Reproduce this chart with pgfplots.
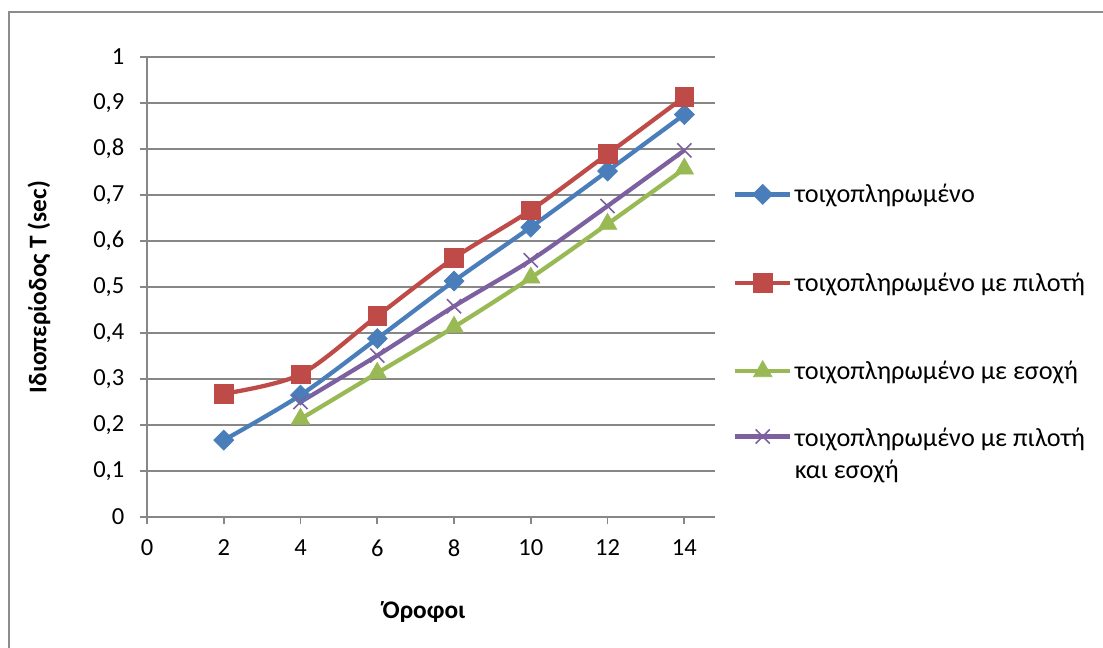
\documentclass[border=0pt]{standalone}
\usepackage{fontspec}
\setmainfont{Carlito}
\usepackage{pgfplots}
\pgfplotsset{compat=1.18}
\definecolor{sBlue}{HTML}{4A7EBB}
\definecolor{sRed}{HTML}{BE4B48}
\definecolor{sGreen}{HTML}{98B954}
\definecolor{sPurple}{HTML}{7D60A0}
\definecolor{gridc}{HTML}{878787}
\definecolor{borderc}{HTML}{8C8C8C}
\begin{document}
\begin{tikzpicture}
\useasboundingbox (-110.25pt,-98.25pt) rectangle (717pt,387.75pt);
\draw[borderc, line width=0.9pt] (-103.5pt,-100pt) -- (-103.5pt,378.75pt) -- (720pt,378.75pt);
\begin{axis}[
  at={(0pt,0pt)}, anchor=south west, scale only axis,
  width=426pt, height=345pt,
  xmin=0, xmax=14.8, ymin=0, ymax=1,
  xtick={0,2,4,6,8,10,12,14},
  ytick={0,0.1,0.2,0.3,0.4,0.5,0.6,0.7,0.8,0.9,1},
  axis lines=left, axis line style={-, gridc, line width=1.3pt},
  tick align=outside, major tick length=5.5pt,
  tick style={gridc, line width=1.3pt},
  ymajorgrids, grid style={gridc, line width=1.3pt},
  /pgf/number format/assume math mode=true,
  /pgf/number format/use comma,
  /pgf/number format/fixed,
  yticklabel style={/pgf/number format/precision=1, xshift=-8pt},
  xticklabel style={yshift=-8pt},
  tick label style={font=\fontsize{18.4}{22}\selectfont, black},
  ylabel={Ιδιοπερίοδος T (sec)},
  xlabel={Όροφοι},
  every axis y label/.style={at={(axis description cs:-0.19,0.5)}, rotate=90, anchor=center, font=\fontsize{19}{23}\selectfont\bfseries},
  every axis x label/.style={at={(axis description cs:0.4877,-0.2065)}, anchor=center, font=\fontsize{19}{23}\selectfont\bfseries},
  legend style={draw=none, fill=none, at={(axis description cs:1.0317,0.73)}, anchor=north west,
    font=\fontsize{19.7}{24}\selectfont, row sep=47pt, inner sep=0pt,
    cells={anchor=west, align=left}},
  legend image code/.code={\draw[mark repeat=2, mark phase=2] plot coordinates {(0pt,0pt) (20.5pt,0pt) (41pt,0pt)};},
  every axis plot/.append style={line width=3.2pt, smooth, tension=0.5},
]
\addplot[sBlue, mark=square*, mark size=5.3pt, mark options={rotate=45, solid, line width=0.5pt}] coordinates {
(2,0.167) (4,0.265) (6,0.388) (8,0.513) (10,0.630) (12,0.752) (14,0.875)};
\addlegendentry{τοιχοπληρωμένο}
\addplot[sRed, mark=square*, mark size=7pt, mark options={solid, line width=0.5pt}] coordinates {
(2,0.268) (4,0.310) (6,0.437) (8,0.563) (10,0.667) (12,0.789) (14,0.913)};
\addlegendentry{τοιχοπληρωμένο με πιλοτή}
\addplot[sGreen, mark=triangle*, mark size=8pt, mark options={solid, line width=0.5pt}] coordinates {
(4,0.213) (6,0.313) (8,0.413) (10,0.520) (12,0.637) (14,0.757)};
\addlegendentry{τοιχοπληρωμένο με εσοχή}
\addplot[sPurple, mark=x, mark size=7.5pt, mark options={solid, line width=1.2pt},
  legend image code/.code={\path[draw=none, fill=none] (0pt,-7.5pt) rectangle (41pt,7.5pt);
    \begin{scope}[overlay]\draw[yshift=19pt, mark repeat=2, mark phase=2] plot coordinates {(0pt,0pt) (20.5pt,0pt) (41pt,0pt)};\end{scope}}] coordinates {
(4,0.250) (6,0.351) (8,0.458) (10,0.558) (12,0.676) (14,0.797)};
\addlegendentry{\raisebox{19pt}[\height][0pt]{\begin{tabular}[t]{@{}l@{}}τοιχοπληρωμένο με πιλοτή\\και εσοχή\end{tabular}}}
\end{axis}
\end{tikzpicture}
\end{document}
